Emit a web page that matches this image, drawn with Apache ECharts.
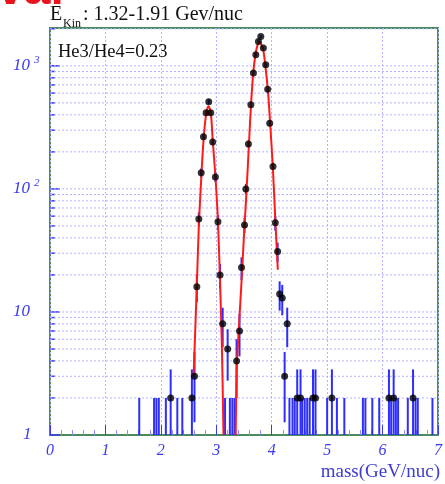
<!DOCTYPE html>
<html>
<head>
<meta charset="utf-8">
<script src="https://cdn.jsdelivr.net/npm/echarts@6/dist/echarts.min.js"></script>
<style>
html, body { margin: 0; padding: 0; background: #fff; }
#chart { width: 445px; height: 484px; }
</style>
</head>
<body>
<div id="chart"></div>
<script>
const chartDom = document.querySelector('#chart')
let massChart = echarts.init(chartDom)

// bins holding a single event (mass in GeV/nuc)
const oneCountMass = [1.61, 1.878, 1.92, 1.963, 2.09, 2.297, 2.387,
    3.158, 3.245, 3.29, 3.33, 4.32, 4.375, 4.415, 4.55, 4.595, 4.64, 4.685,
    5.00, 5.176, 5.31, 5.645, 5.69, 5.815, 5.94, 6.155, 6.24, 6.28, 6.455,
    6.595, 6.635, 6.90]
// bins holding two events
const twoCountMass = [2.177, 2.56, 4.46, 4.52, 4.745, 4.79, 5.086, 6.115, 6.20, 6.55]
// the rest of the histogram (peaks and tails)
const peakMass = [2.607, 2.649, 2.685, 2.728, 2.769, 2.817, 2.864, 2.90, 2.935,
    2.984, 3.03, 3.068, 3.115, 3.205, 3.366, 3.419, 3.455, 3.509, 3.534, 3.580,
    3.624, 3.670, 3.713, 3.760, 3.803, 3.849, 3.892, 3.928, 3.964, 4.023, 4.065,
    4.107, 4.143, 4.19, 4.233, 4.28]
const peakCount = [3, 16, 57, 135, 265, 415, 510, 415, 241,
    125, 54, 20, 8, 5, 4, 7, 23, 51, 100, 232,
    482, 873, 1228, 1577, 1730, 1393, 1019, 646, 342, 152, 53,
    31, 14, 13, 3, 8]

// fitted curves
const he3FitMass = [2.59, 2.62, 2.65, 2.685, 2.73, 2.77, 2.815, 2.86, 2.90, 2.935, 2.985, 3.03, 3.07, 3.10, 3.13]
const he3FitCount = [3, 7, 17, 50, 125, 250, 400, 470, 420, 250, 125, 55, 16, 5.5, 1]
const he4FitMass = [3.35, 3.37, 3.40, 3.45, 3.50, 3.545, 3.59, 3.625, 3.665, 3.705, 3.745, 3.785, 3.82, 3.85, 3.885, 3.93, 3.97, 4.02, 4.065, 4.11]
const he4FitCount = [1, 3.6, 6.5, 16, 42, 95, 235, 470, 860, 1220, 1480, 1560, 1470, 1330, 1000, 640, 350, 150, 56, 22]

const yDecades = [1, 10, 100, 1000]
const yMinorLines = [2, 3, 4, 5, 6, 7, 8, 9, 20, 30, 40, 50, 60, 70, 80, 90,
    200, 300, 400, 500, 600, 700, 800, 900, 2000]

const xMin = 0
const xMax = 7
const yMin = 1
const yMax = 2030

const labelBlue = '#3a3af2'
const barBlue = '#2e2eff'
const gridBlue = '#b4b4ff'
const frameGreen = '#4a8a5c'

let bins = []
oneCountMass.forEach(m => bins.push([m, 1]))
twoCountMass.forEach(m => bins.push([m, 2]))
peakMass.forEach((m, i) => bins.push([m, peakCount[i]]))

// poisson error bars
const barData = bins.map(b => [b[0], Math.max(b[1] - Math.sqrt(b[1]), yMin), b[1] + Math.sqrt(b[1])])
const dotData = bins.filter(b => b[1] > 1)

const gridData = yDecades.concat(yMinorLines).map(v => [xMin, v])

function renderGrid(params, api) {
    const v = api.value(1)
    const a = api.coord([xMin, v])
    const b = api.coord([xMax, v])
    const isDecade = yDecades.indexOf(v) >= 0
    let children = [{
        type: 'line',
        shape: {x1: a[0], y1: a[1], x2: a[0] + (isDecade ? 10 : 5), y2: a[1]},
        style: {stroke: labelBlue, lineWidth: 1.5}
    }]
    if (v > yMin) {
        children.push({
            type: 'line',
            shape: {x1: a[0], y1: a[1], x2: b[0], y2: b[1]},
            style: {stroke: gridBlue, lineWidth: 1, lineDash: [2, 2]}
        })
    }
    return {type: 'group', children: children}
}

function renderBar(params, api) {
    const m = api.value(0)
    const p1 = api.coord([m, api.value(1)])
    const p2 = api.coord([m, api.value(2)])
    return {
        type: 'line',
        shape: {x1: p1[0], y1: p1[1], x2: p2[0], y2: p2[1]},
        style: {stroke: barBlue, lineWidth: 2}
    }
}

const serif = 'Liberation Serif'

let option = {
    animation: false,
    backgroundColor: '#fff',
    grid: {
        left: 50,
        right: 5,
        top: 28,
        bottom: 49,
        show: true,
        borderColor: frameGreen,
        borderWidth: 2
    },
    xAxis: {
        type: 'value',
        min: xMin,
        max: xMax,
        interval: 1,
        axisLine: {show: false},
        axisTick: {show: true, inside: true, length: 10, lineStyle: {color: labelBlue}},
        minorTick: {show: true, splitNumber: 5, length: 5, lineStyle: {color: '#8c8cff'}},
        splitLine: {show: true, lineStyle: {color: gridBlue, type: [2, 2], width: 1}},
        axisLabel: {
            color: labelBlue,
            fontFamily: serif,
            fontStyle: 'italic',
            fontSize: 16,
            margin: 8
        }
    },
    yAxis: {
        type: 'log',
        logBase: 10,
        min: yMin,
        max: yMax,
        axisLine: {show: false},
        axisTick: {show: false},
        splitLine: {show: false},
        axisLabel: {
            showMaxLabel: false,
            align: 'left',
            margin: 37,
            formatter: v => {
                const p = Math.round(Math.log10(v))
                if (p === 0) return '{one|1}'
                if (p === 1) return '{b|10}'
                return '{b|10}{s|' + p + '}'
            },
            rich: {
                one: {color: labelBlue, fontFamily: serif, fontStyle: 'italic', fontSize: 17, padding: [0, 0, 0, 10]},
                b: {color: labelBlue, fontFamily: serif, fontStyle: 'italic', fontSize: 17, lineHeight: 22},
                s: {color: labelBlue, fontFamily: serif, fontStyle: 'italic', fontSize: 11, verticalAlign: 'top', padding: [0, 0, 0, 4]}
            }
        }
    },
    graphic: [
        {type: 'text', x: -3, y: 15, z: 10,
            style: {text: 'val', fill: '#e8141c', font: 'bold 48px "Liberation Sans"', verticalAlign: 'bottom'}},
        {type: 'text', x: 50, y: 5,
            style: {text: 'E', fill: '#111', font: '20px "Liberation Serif"'}},
        {type: 'text', x: 63, y: 18,
            style: {text: 'Kin', fill: '#111', font: '12px "Liberation Serif"'}},
        {type: 'text', x: 83, y: 5,
            style: {text: ': 1.32-1.91 Gev/nuc', fill: '#111', font: '20px "Liberation Serif"'}},
        {type: 'text', x: 58, y: 43, z: 10,
            style: {text: 'He3/He4=0.23', fill: '#111', font: '18.5px "Liberation Serif"'}},
        {type: 'text', right: 5, top: 463,
            style: {text: 'mass(GeV/nuc)', fill: '#3d3dd0', font: '19px "Liberation Serif"'}}
    ],
    series: [
        {
            type: 'custom',
            name: 'grid',
            renderItem: renderGrid,
            data: gridData,
            encode: {x: 0, y: 1},
            clip: false,
            silent: true,
            z: 1
        },
        {
            type: 'custom',
            name: 'errors',
            renderItem: renderBar,
            data: barData,
            encode: {x: 0, y: [1, 2]},
            clip: true,
            z: 2
        },
        {
            type: 'line',
            name: 'He3 fit',
            data: he3FitMass.map((m, i) => [m, he3FitCount[i]]),
            showSymbol: false,
            smooth: 0.3,
            clip: true,
            lineStyle: {color: '#ff1a1a', width: 2},
            z: 3
        },
        {
            type: 'line',
            name: 'He4 fit',
            data: he4FitMass.map((m, i) => [m, he4FitCount[i]]),
            showSymbol: false,
            smooth: 0.3,
            clip: true,
            lineStyle: {color: '#ff1a1a', width: 2},
            z: 3
        },
        {
            type: 'scatter',
            name: 'counts',
            data: dotData,
            symbolSize: 7,
            itemStyle: {color: '#000'},
            z: 4
        }
    ]
}

massChart.setOption(option)
</script>
</body>
</html>
